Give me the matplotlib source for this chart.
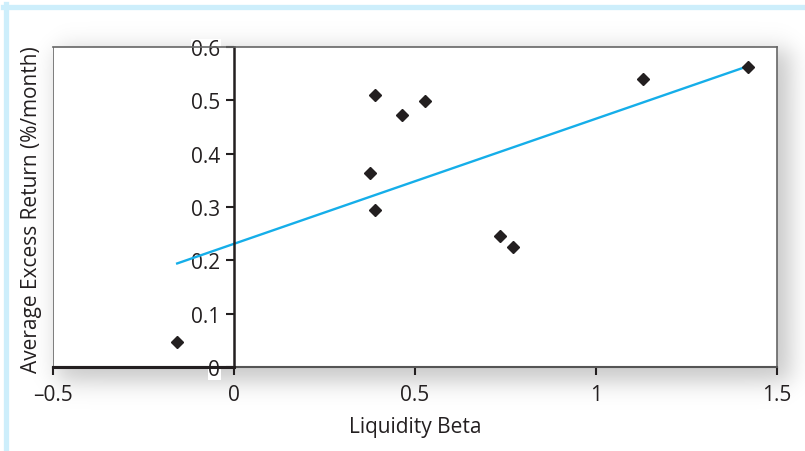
import numpy as np
import matplotlib
matplotlib.use("Agg")
import matplotlib.pyplot as plt
from matplotlib.lines import Line2D

# --- data -------------------------------------------------------------------
liquidity_beta = [-0.157, 0.39, 0.464, 0.528, 0.376, 0.39, 0.735, 0.771, 1.13, 1.42]
excess_return = [0.047, 0.510, 0.472, 0.499, 0.364, 0.294, 0.246, 0.225, 0.540, 0.563]
fit_intercept = 0.231
fit_slope = 0.2346
x_ticks = [-0.5, 0, 0.5, 1, 1.5]
x_ticklabels = ["\u20130.5", "0", "0.5", "1", "1.5"]
y_ticks = [0, 0.1, 0.2, 0.3, 0.4, 0.5, 0.6]
y_ticklabels = ["0", "0.1", "0.2", "0.3", "0.4", "0.5", "0.6"]

plt.rcParams["font.family"] = ["Open Sans", "DejaVu Sans"]

W, H = 805, 452
fig = plt.figure(figsize=(W / 100, H / 100), dpi=100)

# axes rectangle in pixels (left, top, right, bottom)
L, T, R, B = 53, 48, 777, 368
box = [L / W, 1 - B / H, (R - L) / W, (B - T) / H]

# drop shadow behind the frame
bg = fig.add_axes([0, 0, 1, 1], zorder=0)
bg.axis("off")
yy, xx = np.mgrid[0:H, 0:W]
s = 7.0
def soft(v, a, b):
    return 1 / (1 + np.exp(-(v - a) / s)) - 1 / (1 + np.exp(-(v - b) / s))
shade = soft(xx, L + 4, R + 12) * soft(yy, T + 2, B + 14)
img = np.zeros((H, W, 4))
img[..., 3] = 0.22 * shade
bg.imshow(img, extent=[0, W, H, 0], aspect="auto", interpolation="bilinear")
bg.set_xlim(0, W)
bg.set_ylim(H, 0)

# light blue page border
fig.add_artist(Line2D([3 / W, 1], [1 - 7.5 / H] * 2, color="#cdeefb", lw=3.8,
                      transform=fig.transFigure))
fig.add_artist(Line2D([5.5 / W] * 2, [0, 1 - 5 / H], color="#cdeefb", lw=3.8,
                      transform=fig.transFigure))

ax = fig.add_axes(box, zorder=1)
ax.set_facecolor("white")
ax.set_xlim(-0.5, 1.5)
ax.set_ylim(0, 0.6)

for side in ["top", "right"]:
    ax.spines[side].set_color("#666666")
    ax.spines[side].set_linewidth(1.2)
ax.spines["bottom"].set_color("#555555")
ax.spines["bottom"].set_linewidth(1.5)
ax.spines["left"].set_position(("data", 0))
ax.spines["left"].set_color("#231f20")
ax.spines["left"].set_linewidth(1.8)
ax.axvline(-0.5, color="#666666", lw=1.2, zorder=1)
ax.plot([-0.5, 0], [0, 0], color="#231f20", lw=2.2, clip_on=False, zorder=3)

ax.set_xticks(x_ticks)
ax.set_xticklabels(x_ticklabels)
ax.set_yticks(y_ticks)
ax.set_yticklabels(y_ticklabels)
ax.tick_params(axis="both", direction="out", length=6, width=1.5,
               color="#231f20", labelsize=15, labelcolor="#231f20")
ax.tick_params(axis="y", pad=4)
ax.tick_params(axis="x", pad=6)
for t in ax.get_yticklabels():
    t.set_bbox(dict(facecolor="white", edgecolor="none", pad=0.3))

fx = np.array([min(liquidity_beta), max(liquidity_beta)])
ax.plot(fx, fit_intercept + fit_slope * fx, color="#15aee9", lw=1.7, zorder=2)
ax.plot(liquidity_beta, excess_return, "D", color="#231f20", ms=6, zorder=4)

ax.set_xlabel("Liquidity Beta", fontsize=15, color="#231f20", labelpad=8)
fig.text(32 / W, 1 - 210 / H, "Average Excess Return (%/month)", rotation=90,
         ha="center", va="center", fontsize=15, color="#231f20")

fig.savefig("out.png", dpi=100)
